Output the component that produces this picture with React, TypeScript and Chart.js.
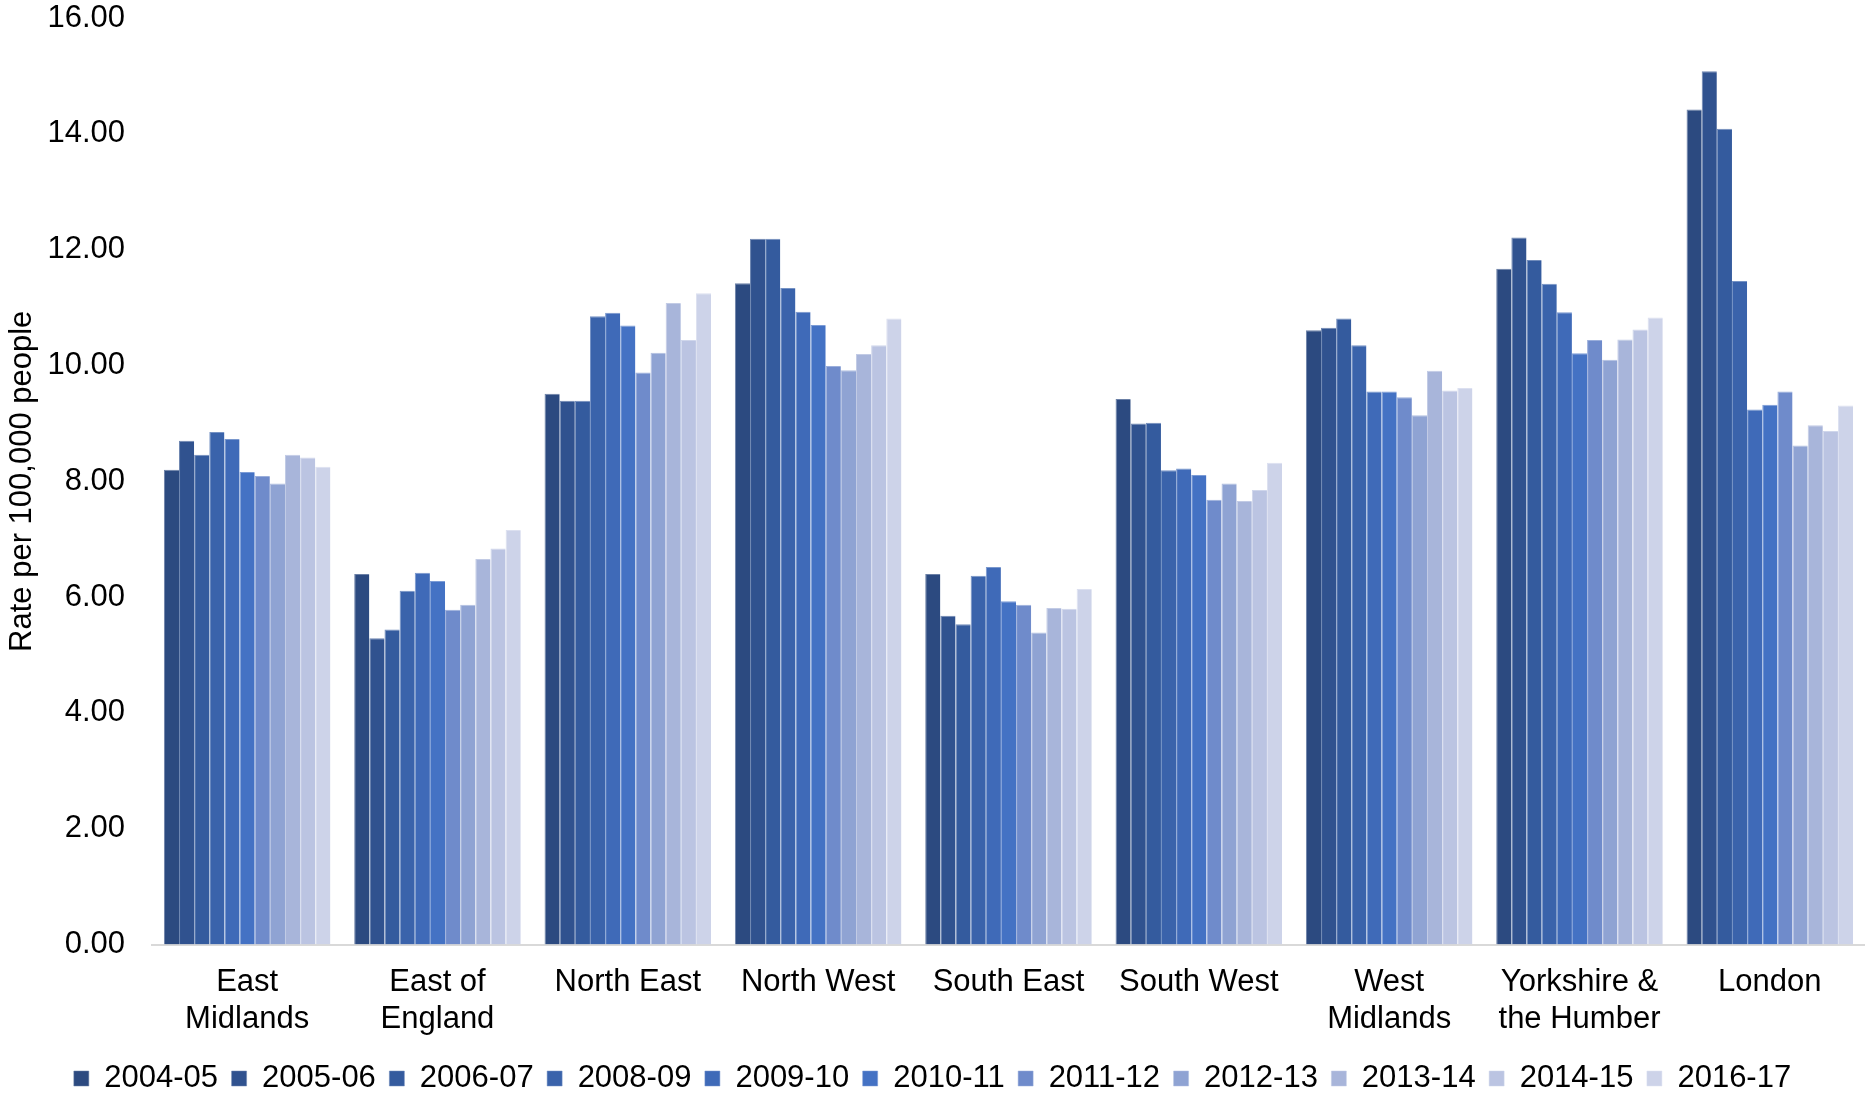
import React, { useEffect, useRef } from "react";
import { Chart, registerables } from "chart.js";

Chart.register(...registerables);

const regions: (string | string[])[] = [
  ["East", "Midlands"],
  ["East of", "England"],
  "North East",
  "North West",
  "South East",
  "South West",
  ["West", "Midlands"],
  ["Yorkshire &", "the Humber"],
  "London",
];

const years = [
  "2004-05",
  "2005-06",
  "2006-07",
  "2008-09",
  "2009-10",
  "2010-11",
  "2011-12",
  "2012-13",
  "2013-14",
  "2014-15",
  "2016-17",
];

// values per year, in region order
const y2004_05 = [8.2, 6.4, 9.51, 11.42, 6.4, 9.42, 10.61, 11.67, 14.42];
const y2005_06 = [8.7, 5.29, 9.39, 12.19, 5.68, 9.0, 10.65, 12.21, 15.08];
const y2006_07 = [8.46, 5.44, 9.39, 12.19, 5.53, 9.01, 10.81, 11.82, 14.09];
const y2008_09 = [8.85, 6.11, 10.85, 11.34, 6.37, 8.19, 10.35, 11.41, 11.46];
const y2009_10 = [8.73, 6.42, 10.91, 10.93, 6.52, 8.22, 9.55, 10.92, 9.24];
const y2010_11 = [8.16, 6.28, 10.69, 10.7, 5.93, 8.11, 9.55, 10.21, 9.32];
const y2011_12 = [8.09, 5.78, 9.88, 9.99, 5.87, 7.68, 9.45, 10.44, 9.55];
const y2012_13 = [7.96, 5.87, 10.22, 9.92, 5.39, 7.96, 9.14, 10.1, 8.62];
const y2013_14 = [8.46, 6.66, 11.08, 10.2, 5.81, 7.66, 9.91, 10.45, 8.97];
const y2014_15 = [8.41, 6.84, 10.44, 10.35, 5.8, 7.85, 9.57, 10.62, 8.87];
const y2016_17 = [8.25, 7.16, 11.25, 10.81, 6.14, 8.32, 9.61, 10.83, 9.31];

const seriesValues = [
  y2004_05,
  y2005_06,
  y2006_07,
  y2008_09,
  y2009_10,
  y2010_11,
  y2011_12,
  y2012_13,
  y2013_14,
  y2014_15,
  y2016_17,
];

const seriesColors = [
  "#2c4a80",
  "#30528f",
  "#345b9e",
  "#3a63ab",
  "#3f6ab8",
  "#4472c4",
  "#6f8bcb",
  "#8fa3d3",
  "#a8b5da",
  "#bbc4e2",
  "#cdd3e9",
];

const yTicks = [0, 2, 4, 6, 8, 10, 12, 14, 16];
const yTitle = "Rate per 100,000 people";

const FONT = "'Liberation Sans', Arial, sans-serif";

function lighten(hex: string, t: number) {
  const n = parseInt(hex.slice(1), 16);
  const r = (n >> 16) & 255;
  const g = (n >> 8) & 255;
  const b = n & 255;
  const m = (c: number) => Math.round(c + (255 - c) * t);
  return `rgb(${m(r)},${m(g)},${m(b)})`;
}

export default function App() {
  const canvasRef = useRef<HTMLCanvasElement | null>(null);

  useEffect(() => {
    if (!canvasRef.current) return;
    const chart = new Chart(canvasRef.current, {
      type: "bar",
      data: {
        labels: regions,
        datasets: years.map((y, i) => ({
          label: y,
          data: seriesValues[i],
          backgroundColor: seriesColors[i],
          borderColor: lighten(seriesColors[i], 0.3),
          borderWidth: { top: 1, left: 1, right: 0, bottom: 0 },
          borderSkipped: false,
          categoryPercentage: 0.875,
          barPercentage: 1.0,
        })),
      },
      options: {
        responsive: false,
        animation: false,
        layout: { padding: 0 },
        plugins: {
          legend: {
            position: "bottom",
            labels: {
              boxWidth: 15,
              boxHeight: 15,
              padding: 13.5,
              color: "#000",
              font: { family: FONT, size: 31 },
            },
          },
          tooltip: { enabled: false },
        },
        scales: {
          x: {
            grid: { display: false, drawTicks: true, tickLength: 8.2 },
            border: { display: true, color: "#d9d9d9", width: 2 },
            ticks: {
              color: "#000",
              font: { family: FONT, size: 31 },
              padding: 11.2,
              autoSkip: false,
              maxRotation: 0,
              minRotation: 0,
            },
          },
          y: {
            min: yTicks[0],
            max: yTicks[yTicks.length - 1],
            afterBuildTicks: (axis: any) => {
              axis.ticks = yTicks.map((v) => ({ value: v }));
            },
            grid: { display: false, drawTicks: true, tickLength: 12 },
            border: { display: false },
            ticks: {
              color: "#000",
              font: { family: FONT, size: 31, lineHeight: 0.2 },
              padding: 15,
              callback: (v: any) => Number(v).toFixed(2),
            },
            title: {
              display: true,
              text: yTitle,
              color: "#000",
              font: { family: FONT, size: 31 },
              padding: { top: 4, bottom: -8.8 },
            },
          },
        },
      },
    });
    return () => chart.destroy();
  }, []);

  return (
    <div
      style={{
        position: "fixed",
        left: 0,
        top: 0,
        width: 1865,
        height: 1104,
        background: "#fff",
      }}
    >
      <canvas
        ref={canvasRef}
        width={1865}
        height={1104}
        style={{ display: "block", width: 1865, height: 1104 }}
      />
    </div>
  );
}
